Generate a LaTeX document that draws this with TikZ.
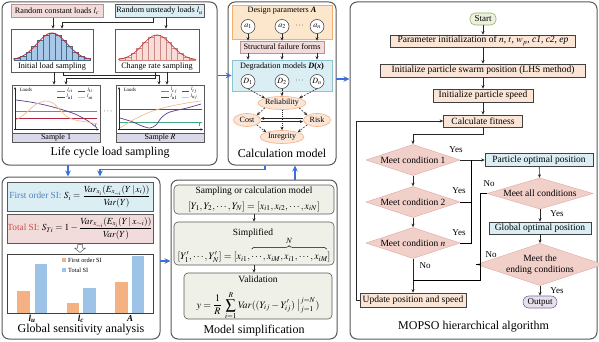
\documentclass[tikz,border=0pt]{standalone}
\usepackage{mathptmx}
\usepackage{fontspec}
\setmainfont{Liberation Serif}
\usetikzlibrary{arrows.meta,shapes.geometric,calc,decorations.pathreplacing}
\definecolor{pdraw}{HTML}{595959}
\definecolor{bline}{HTML}{3D6FD9}
\definecolor{pinkA}{HTML}{F2DCDB}
\definecolor{pinkB}{HTML}{B59594}
\definecolor{blueA}{HTML}{DAEEF3}
\definecolor{blueB}{HTML}{8CC4D6}
\definecolor{histB}{HTML}{A9C8E8}
\definecolor{histBd}{HTML}{4A6A8C}
\definecolor{histP}{HTML}{F9DCD7}
\definecolor{histPd}{HTML}{C98A85}
\definecolor{curveR}{HTML}{C0282D}
\definecolor{band}{HTML}{D9D8E8}
\definecolor{cGreen}{HTML}{3FA882}
\definecolor{cRed}{HTML}{B0273F}
\definecolor{cPurple}{HTML}{5B3C88}
\definecolor{cPeach}{HTML}{F2BE94}
\definecolor{apric}{HTML}{FCE6CC}
\definecolor{apricB}{HTML}{F2AE6A}
\definecolor{peach}{HTML}{FBE5D6}
\definecolor{peachB}{HTML}{F4B183}
\definecolor{dpink}{HTML}{F2D0CA}
\definecolor{dpinkB}{HTML}{E3AFA8}
\definecolor{msfill}{HTML}{EFF1E8}
\definecolor{startF}{HTML}{EBF1DE}
\definecolor{startB}{HTML}{98B366}
\definecolor{outF}{HTML}{E6E0EC}
\definecolor{outB}{HTML}{7F6A9E}
\definecolor{barO}{HTML}{F4B183}
\definecolor{barB}{HTML}{9DC3E6}
\definecolor{foTxt}{HTML}{4F81BD}
\definecolor{toTxt}{HTML}{C0504D}
\definecolor{darkB}{HTML}{404040}
\begin{document}
\begin{tikzpicture}[x=1pt,y=-1pt,
  panel/.style={draw=pdraw, line width=1pt, rounded corners=7pt, fill=white, inner sep=0pt},
  ttl/.style={font=\fontsize{12}{14}\selectfont, inner sep=0pt},
  txt/.style={font=\fontsize{8.2}{9.5}\selectfont, inner sep=0pt},
  stxt/.style={font=\fontsize{8}{9}\selectfont, inner sep=0pt},
  tinyt/.style={font=\fontsize{5}{6}\selectfont, inner sep=0pt},
  bx/.style={draw=#1, line width=0.6pt, inner sep=0pt, font=\fontsize{8.2}{9.5}\selectfont},
  wh/.style 2 args={minimum width=#1, minimum height=#2},
  arr/.style={-{Stealth[length=3.5pt,width=3pt]}, line width=0.55pt, draw=black!85},
  darr/.style={arr, dash pattern=on 2pt off 1.2pt},
  barr/.style={-{Stealth[length=6pt,width=5.5pt]}, line width=1.2pt, draw=bline},
  axarr/.style={-{Stealth[length=2.5pt,width=2.2pt]}, line width=0.5pt, draw=black!85},
  fc/.style={draw=darkB, line width=0.6pt, inner sep=0pt, fill=peach, font=\fontsize{9.5}{11}\selectfont},
  dia/.style={diamond, aspect=3, fill=dpink, draw=dpinkB, line width=0.5pt, inner sep=0pt, font=\fontsize{9.5}{11}\selectfont},
  lab/.style={font=\fontsize{9}{10}\selectfont, inner sep=0pt},
  circ/.style={circle, draw=black!80, fill=white, line width=0.5pt, minimum size=14pt, inner sep=0pt, font=\fontsize{8}{8}\selectfont},
  ell/.style={ellipse, draw=peachB, fill=peach, line width=0.6pt, inner sep=0pt, font=\fontsize{8}{9}\selectfont},
  msb/.style={draw=pdraw, fill=msfill, line width=0.6pt, rounded corners=4pt, inner sep=0pt},
  mst/.style={font=\fontsize{9.5}{11}\selectfont, inner sep=0pt},
  msm/.style={font=\fontsize{10}{11}\selectfont, inner sep=0pt},
  cl/.style={line width=0.7pt}
]
\useasboundingbox (0,0) rectangle (599,342);
\fill[white] (0,0) rectangle (599,342);

%% ---------------- panels ----------------
\node[panel, wh={215}{163}] (lc) at (109.5,83.5) {};
\node[panel, wh={108}{163}] (cm) at (282,83.5) {};
\node[panel, wh={247}{337}] (mo) at (473.5,170.5) {};
\node[panel, wh={158}{162}] (gs) at (81,258) {};
\node[panel, wh={166}{159}] (ms) at (254,259.5) {};

\node[ttl] (lct) at (110,153) {Life cycle load sampling};
\node[ttl] (cmt) at (282,153) {Calculation model};
\node[ttl] (mot) at (473.5,327) {MOPSO hierarchical algorithm};
\node[ttl] (gst) at (81,330) {Global sensitivity analysis};
\node[ttl] (mstt) at (254,331) {Model simplification};

%% ---------------- Life cycle load sampling ----------------
\node[bx=pinkB, fill=pinkA, wh={92}{13}] (rc) at (57,11) {Random constant loads $l_c$};
\node[bx=pdraw, fill=blueA, wh={89}{13}] (ru) at (159.5,11) {Random unsteady loads $l_u$};
\node[bx=pdraw, wh={82}{43}] (ils) at (52,50.5) {};
\node[bx=pdraw, wh={84}{43}] (crs) at (157,50.5) {};
% histograms
\foreach \i in {0,...,12}{
  \pgfmathsetmacro\xa{14+\i*5.85}
  \pgfmathsetmacro\hh{27*exp(-((\xa+2.925-52)^2)/450)}
  \draw[fill=histB, draw=histBd, line width=0.35pt] (\xa,60) rectangle ++(5.85,-\hh);
}
\draw[curveR, line width=0.8pt, smooth, samples=60, domain=13:91] plot (\x,{60-27*exp(-((\x-52)^2)/450)});
\foreach \i in {0,...,12}{
  \pgfmathsetmacro\xa{119+\i*5.85}
  \pgfmathsetmacro\hh{25*exp(-((\xa+2.925-157)^2)/420)}
  \draw[fill=histP, draw=histPd, line width=0.35pt] (\xa,60) rectangle ++(5.85,-\hh);
}
\draw[curveR, line width=0.6pt, smooth, samples=60, domain=118:196] plot (\x,{60-25*exp(-((\x-157)^2)/420)});
\node[txt] (ilsl) at (52,66.5) {Initial load sampling};
\node[txt] (crsl) at (157,66.5) {Change rate sampling};

% sample boxes
\fill[band] (12,133) rectangle (100,142);
\fill[band] (116,133) rectangle (204,142);
\draw[pdraw, line width=0.4pt] (12,133) -- (100,133) (116,133) -- (204,133);
\node[bx=pdraw, wh={88}{57}] (s1) at (56,113.5) {};
\node[bx=pdraw, wh={88}{57}] (sR) at (160,113.5) {};
\node[stxt] (s1l) at (56,137.8) {Sample 1};
\node[stxt] (sRl) at (160,137.8) {Sample $R$};
\node[txt] (sdots) at (108,112) {$\cdots$};

% sample 1 plot
\draw[axarr] (15,130) -- (15,87);
\draw[axarr] (14,129.5) -- (99,129.5);
\node[tinyt, font=\fontsize{5}{6}\selectfont\itshape] (ld1) at (26,89.5) {Loads};
\node[tinyt, font=\fontsize{6}{6}\selectfont] (t1) at (96,125) {$t$};
\draw[cGreen, cl] (16,111) -- (97,111);
\draw[cRed, cl] (16,118) -- (97,118);
\draw[cPurple, cl] plot[smooth] coordinates {(16,100) (30,102) (45,105) (60,109) (75,114) (88,121) (97,128)};
\draw[cPeach, cl] plot[smooth] coordinates {(16,120) (26,113) (35,105) (45,101) (53,103) (60,110) (66,116) (75,120) (87,122) (98,124)};
\draw[cGreen, cl] (57,91) -- (65,91);
\draw[cRed, cl] (78,91) -- (85,91);
\draw[cPurple, cl] (57,97) -- (65,97);
\draw[cPeach, cl] (78,97) -- (85,97);
\node[tinyt] (g1a) at (70,90.5) {$l_{ci}$};
\node[tinyt] (g1b) at (90,90.5) {$l_{ti}$};
\node[tinyt] (g1c) at (70,97) {$l_{u1}$};
\node[tinyt] (g1d) at (90,97) {$l_{ui}$};

% sample R plot
\draw[axarr] (119,130) -- (119,87);
\draw[axarr] (118,129.5) -- (203,129.5);
\node[tinyt, font=\fontsize{5}{6}\selectfont\itshape] (ldR) at (130,89.5) {Loads};
\node[tinyt, font=\fontsize{6}{6}\selectfont] (tR) at (200,125) {$t$};
\draw[cRed, cl] (120,109) -- (202,109);
\draw[cGreen, cl] (120,122) -- (202,122);
\draw[cPurple, cl] plot[smooth] coordinates {(120,118) (133,122) (142,126) (150,128) (156,125) (162,117) (170,112) (187,108) (201,104)};
\draw[cPeach, cl] plot[smooth] coordinates {(120,128) (133,120) (150,112) (167,107) (187,103) (201,101)};
\draw[cGreen, cl] (161,91) -- (169,91);
\draw[cRed, cl] (182,91) -- (189,91);
\draw[cPurple, cl] (161,97) -- (169,97);
\draw[cPeach, cl] (182,97) -- (189,97);
\node[tinyt] (gRa) at (174,90.5) {$l_{cj}$};
\node[tinyt] (gRb) at (194,90.5) {$l_{tj}$};
\node[tinyt] (gRc) at (174,97) {$l_{u1}$};
\node[tinyt] (gRd) at (194,97) {$l_{uj}$};

% LC connectors
\draw[arr] ($(rc.south)+(-4,0)$) -- ($(ils.north)+(1,0)$);
\draw[arr] ($(ru.south)+(-6.5,0)$) |- ($(ils.north)+(10,-6)$) -- ($(ils.north)+(10,0)$);
\draw[arr] ($(ru.south)+(6.5,0)$) -- ($(crs.north)+(9,0)$);
\draw[arr] ($(ils.south)+(2,0)$) -- ($(s1.north)+(-2,0)$);
\draw[arr] ($(ils.south)+(11,0)$) -- ++(0,3) -| ($(sR.north)+(-1,0)$);
\draw[arr] ($(crs.south)+(-2,0)$) -- ++(0,6) -| ($(s1.north)+(10,0)$);
\draw[arr] ($(crs.south)+(10,0)$) -- ($(sR.north)+(7,0)$);

%% ---------------- Calculation model ----------------
\node[draw=apricB, fill=apric, line width=0.6pt, inner sep=0pt, wh={100}{34}] (dp) at (282,22) {};
\node[font=\fontsize{8.2}{9}\selectfont, inner sep=0pt] (dpl) at (282,10.5) {Design parameters \textbf{\textit{A}}};
\node[circ] (a1) at (248,26.5) {$a_1$};
\node[circ] (a2) at (282,26.5) {$a_2$};
\node[font=\fontsize{8}{9}\selectfont, inner sep=0pt] (adots) at (299.5,25.5) {$\cdots$};
\node[circ] (an) at (317,26.5) {$a_n$};
\node[draw=pinkB, fill=pinkA, line width=0.6pt, inner sep=0pt, wh={84}{12}, font=\fontsize{8.2}{9}\selectfont] (sf) at (282,47) {Structural failure forms};
\node[draw=blueB, fill=blueA, line width=0.6pt, inner sep=0pt, wh={100}{31}] (deg) at (282,75.5) {};
\node[font=\fontsize{8.2}{9}\selectfont, inner sep=0pt] (degl) at (282,66.5) {Degradation models \textbf{\textit{D}(\textit{x})}};
\node[circ] (D1) at (248,81.5) {$D_1$};
\node[circ] (D2) at (282,81.5) {$D_2$};
\node[font=\fontsize{8}{9}\selectfont, inner sep=0pt] (Ddots) at (299.5,80.5) {$\cdots$};
\node[circ] (Dn) at (317,81.5) {$D_n$};
\node[ell, wh={46}{13}] (rel) at (282,103) {Reliability};
\node[ell, wh={27}{13}] (cost) at (247,120) {Cost};
\node[ell, wh={27}{13}] (risk) at (317,120) {Risk};
\node[ell, wh={44}{13}] (integ) at (282,137) {Inregrity};

\foreach \n in {a1,a2,an}{\draw[arr] (\n.south) -- (\n.south |- sf.north);}
\foreach \n in {a1,a2,an}{\draw[arr] (\n.south |- sf.south) -- (\n.south |- deg.north);}
\draw[darr] (D1.south) -- (rel.north west);
\draw[darr] (D2.south) -- (rel.north);
\draw[darr] (Dn.south) -- (rel.north east);
\draw[darr] (rel.south west) -- (cost.north east);
\draw[darr] (rel.south east) -- (risk.north west);
\draw[arr, dash pattern=on 1pt off 1.2pt] (rel.south) -- (integ.north);
\draw[darr] (cost.south east) -- (integ.north west);
\draw[darr] (risk.south west) -- (integ.north east);
\draw[arr] ($(risk.west)+(0,-1.6)$) -- ($(cost.east)+(0,-1.6)$);
\draw[arr] ($(cost.east)+(0,1.6)$) -- ($(risk.west)+(0,1.6)$);

%% ---------------- MOPSO ----------------
\node[draw=startB, fill=startF, line width=0.6pt, rounded corners=5pt, inner sep=0pt, wh={26}{12}, font=\fontsize{9}{10}\selectfont] (start) at (483,19) {Start};
\node[fc, wh={185}{12}] (p1) at (483,41) {Parameter initialization of $n$, $t$, $w_p$, \textit{c1}, \textit{c2}, \textit{ep}};
\node[fc, wh={205}{13}] (p2) at (483,70.5) {Initialize particle swarm position (LHS method)};
\node[fc, wh={100}{13}] (p3) at (483,95.5) {Initialize particle speed};
\node[fc, wh={79}{12}] (p4) at (483,121) {Calculate fitness};
\node[dia, wh={94}{31}] (d1) at (413,160) {Meet condition 1};
\node[dia, wh={94}{31}] (d2) at (413,202) {Meet condition 2};
\node[dia, wh={94}{31}] (dn) at (413,243) {Meet condition $n$};
\node[fc, wh={106}{14}] (upd) at (413,300) {Update position and speed};
\node[fc, fill=blueA, wh={108}{13}] (pop) at (539,160) {Particle optimal position};
\node[dia, wh={106}{31}] (dall) at (540,193.5) {Meet all conditions};
\node[fc, fill=blueA, wh={102}{12}] (gop) at (540,228) {Global optimal position};
\node[dia, wh={106}{39}, align=center] (dend) at (540,264.5) {Meet the\\ending conditions};
\node[draw=outB, fill=outF, line width=0.6pt, rounded corners=6pt, inner sep=0pt, wh={34}{12}, font=\fontsize{9}{10}\selectfont] (out) at (540,302) {Output};

\draw[arr] (start) -- (p1);
\draw[arr] (p1) -- (p2);
\draw[arr] (p2) -- (p3);
\draw[arr] (p3) -- (p4);
\draw[arr] (p4.south) -- ++(0,7) -| (d1.north);
\draw[arr] (d1.east) -- (pop.west);
\draw[line width=0.55pt] (dn.east) -| ($(d1.east)+(11,0)$);
\draw[line width=0.55pt] (d2.east) -- ($(d2.east)+(11,0)$);
\draw[arr] (d1) -- (d2);
\draw[arr] (d2) -- (dn);
\draw[arr] (dn.south) -- (upd.north);
\coordinate (jn) at (480,280);
\coordinate (jm) at (413,280);
\draw[line width=0.55pt] (dall.west) -| (jn) -- (jm);
\draw[line width=0.55pt] (dend.west) -- (dend.west -| jn);
\draw[arr] (upd.west) -- ++(-3.5,0) |- (p4.west);
\draw[arr] (pop) -- (dall);
\draw[arr] (dall) -- (gop);
\draw[arr] (gop) -- (dend);
\draw[arr] (dend) -- (out);
\node[lab] (y1) at (456,149.5) {Yes};
\node[lab] (y2) at (459,191) {Yes};
\node[lab] (y3) at (459,232.5) {Yes};
\node[lab] (n1) at (425,266) {No};
\node[lab] (n2) at (489,184) {No};
\node[lab] (n3) at (491,255) {No};
\node[lab] (y4) at (557,214) {Yes};
\node[lab] (y5) at (557,290.5) {Yes};

%% ---------------- Global sensitivity analysis ----------------
\node[draw=pdraw, fill=blueA, line width=0.6pt, inner sep=0pt, wh={146}{29}] (fo) at (80,196.5) {};
\node[draw=pdraw, fill=pinkA, line width=0.6pt, inner sep=0pt, wh={146}{29}] (to) at (80,228.5) {};
\node[font=\fontsize{9.3}{11}\selectfont, inner sep=0pt] (fot) at (80,196.5) {\textcolor{foTxt}{First order SI:} $S_i=\displaystyle\frac{\mathit{Var}_{x_i}(E_{x_{\sim i}}(Y\,|\,x_i))}{\mathit{Var}(Y)}$};
\node[font=\fontsize{9.3}{11}\selectfont, inner sep=0pt] (tot) at (80,228.5) {\textcolor{toTxt}{Total SI:} $S_{Ti}=1-\displaystyle\frac{\mathit{Var}_{x_{\sim i}}(E_{x_i}(Y\,|\,x_{\sim i}))}{\mathit{Var}(Y)}$};
\draw[fill=white, draw=pdraw, line width=0.5pt] (77.5,244.5) -- (82.5,244.5) -- (82.5,248) -- (85.5,248) -- (80,252.5) -- (74.5,248) -- (77.5,248) -- cycle;
\node[draw=darkB, line width=0.6pt, inner sep=0pt, wh={146}{59}] (chart) at (80,283.5) {};
\fill[barO] (17,313) rectangle (30,291);
\fill[barB] (35,313) rectangle (47,264);
\fill[barO] (67,313) rectangle (79,303);
\fill[barB] (83,313) rectangle (96,288);
\fill[barO] (115,313) rectangle (128,282);
\fill[barB] (132,313) rectangle (144,256);
\fill[barO] (62,258) rectangle (66,262);
\fill[barB] (62,268) rectangle (66,272);
\node[font=\fontsize{6.3}{7}\selectfont, inner sep=0pt, anchor=west] (lg1) at (68,260) {First order SI};
\node[font=\fontsize{6.3}{7}\selectfont, inner sep=0pt, anchor=west] (lg2) at (68,270) {Total SI};
\node[font=\fontsize{9}{10}\selectfont\bfseries\itshape, inner sep=0pt] (xl1) at (32,319) {l\textsubscript{u}};
\node[font=\fontsize{9}{10}\selectfont\bfseries\itshape, inner sep=0pt] (xl2) at (81,319) {l\textsubscript{c}};
\node[font=\fontsize{9}{10}\selectfont\bfseries\itshape, inner sep=0pt] (xl3) at (130,319) {A};

%% ---------------- Model simplification ----------------
\node[msb, wh={160}{29}] (b1) at (254,199.5) {};
\node[mst] (b1t) at (254,191.5) {Sampling or calculation model};
\node[msm] (b1f) at (254,206.5) {$[Y_1,Y_2,\cdots,Y_N]=[x_{i1},x_{i2},\cdots,x_{iN}]$};
\node[msb, wh={160}{43}] (b2) at (254,243.5) {};
\node[mst] (b2t) at (253,233) {Simplified};
\node[msm, anchor=base] (b2f) at (254,259.5) {$[Y'_1,\cdots,Y'_N]=[x_{i1},\cdots,x_{iM},x_{i1},\cdots,x_{iM}]$};
\coordinate (brL) at ($(b2f.east)+(-79,-8)$);
\coordinate (brR) at ($(b2f.east)+(-4,-8)$);
\draw[decorate, decoration={brace, amplitude=3.5pt}, line width=0.5pt] (brL) -- (brR);
\node[font=\fontsize{8}{9}\selectfont, inner sep=0pt] (bN) at ($(brL)!0.5!(brR)+(0,-8)$) {$N$};
\node[msb, wh={148}{46}] (b3) at (258,296) {};
\node[mst] (b3t) at (258,279.5) {Validation};
\node[msm] (b3f) at (258,305.5) {$y=\displaystyle\frac{1}{R}\;\sum_{i=1}^{R}\mathit{Var}((Y_{ij}-Y'_{ij})\;\big|_{j=1}^{j=N})$};
\draw[arr] (b1.south) -- (b1.south |- b2.north);
\draw[arr] (b2.south) -- (b2.south |- b3.north);

%% ---------------- blue connectors ----------------
\draw[barr] (lc.east |- deg.west) -- (deg.west);
\coordinate (cmo) at (336,79);
\draw[barr] (cmo) -- (cmo -| mo.west);
\coordinate (lg) at (68,165);
\draw[barr] (lg) -- (lg |- gs.north);
\draw[barr] ($(cm.south)+(-17,0)$) -- ++(0,4) -| ($(gs.north)+(19,0)$);
\coordinate (gm) at (160,261);
\draw[barr] (gm) -- (gm -| ms.west);
\coordinate (mc) at (295,180);
\draw[barr] (mc) -- (mc |- cm.south);
\end{tikzpicture}
\end{document}
